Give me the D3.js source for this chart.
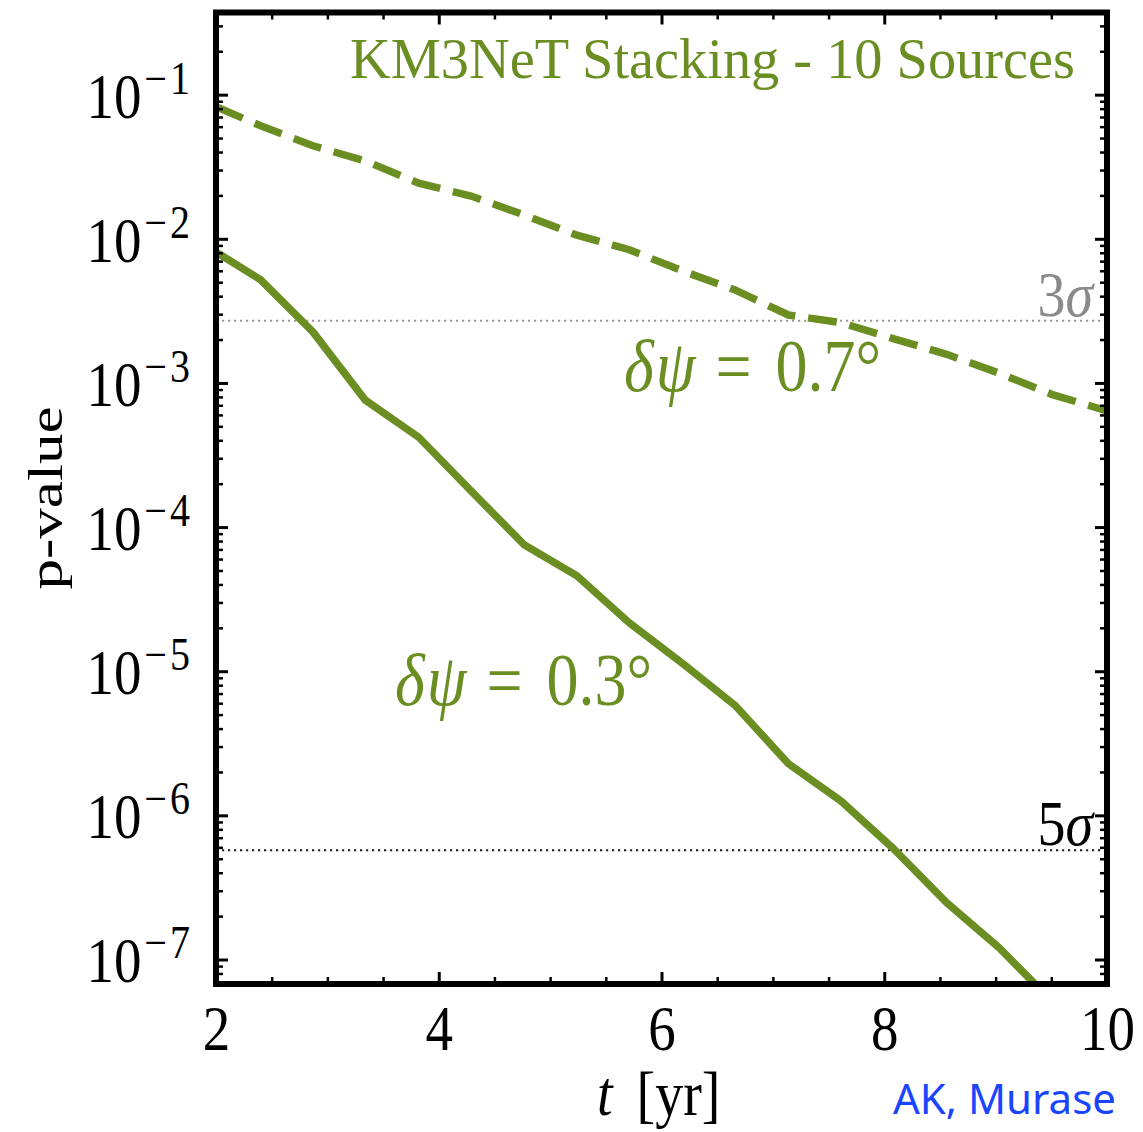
<!DOCTYPE html>
<html>
<head>
<meta charset="utf-8">
<script src="https://cdn.jsdelivr.net/npm/d3@7"></script>
<style>
  body { margin: 0; background: #fff; }
  svg { display: block; }
</style>
</head>
<body>
<svg id="chart" width="1143" height="1132"></svg>
<script>
// Observation time in years
const years = [2, 2.40, 2.87, 3.34, 3.82, 4.29, 4.77, 5.24, 5.71, 6.19, 6.66, 7.14, 7.61, 8.08, 8.56, 9.03, 9.51, 10];
// Stacked p-value, angular resolution 0.3 deg
const pNarrow = [8.1e-3, 5.2e-3, 2.26e-3, 7.6e-4, 4.2e-4, 1.78e-4, 7.5e-5, 4.6e-5, 2.17e-5, 1.13e-5, 5.8e-6, 2.28e-6, 1.26e-6, 5.9e-7, 2.48e-7, 1.21e-7, 5.1e-8, 2.2e-8];
// Stacked p-value, angular resolution 0.7 deg
const pWide = [8.24e-2, 6.08e-2, 4.42e-2, 3.47e-2, 2.43e-2, 1.98e-2, 1.46e-2, 1.06e-2, 8.4e-3, 5.98e-3, 4.42e-3, 2.96e-3, 2.62e-3, 2.03e-3, 1.58e-3, 1.17e-3, 8.3e-4, 6.4e-4];
// Significance thresholds
const sigmaNames = ["3", "5"];
const sigmaP = [2.7e-3, 5.73e-7];
// Axis ticks
const xTicks = [2, 4, 6, 8, 10];
const xMinorTicks = [2.5, 3, 3.5, 4.5, 5, 5.5, 6.5, 7, 7.5, 8.5, 9, 9.5];
const yTickExponents = [-1, -2, -3, -4, -5, -6, -7];
const seriesLabels = ["0.3°", "0.7°"];
const titleText = "KM3NeT Stacking - 10 Sources";

const GREEN = "#6b8e23";
const L = 216, R = 1107, T = 12.5, B = 984;
const STRETCH = 1.15;

const svg = d3.select("#chart");

const x = d3.scaleLinear().domain([2, 10]).range([L, R]);
const y = d3.scaleLog().domain([Math.pow(10, -7.17), Math.pow(10, -0.43)]).range([B, T]);

const yMajor = yTickExponents.map(e => Math.pow(10, e));
const yMinor = [];
for (let e = -8; e <= -1; e++) {
  for (let k = 2; k <= 9; k++) {
    const v = k * Math.pow(10, e);
    if (v >= y.domain()[0] && v <= y.domain()[1]) yMinor.push(v);
  }
}

// clip region for the data
svg.append("defs").append("clipPath").attr("id", "plotClip")
  .append("rect").attr("x", L).attr("y", T).attr("width", R - L).attr("height", B - T);

const plot = svg.append("g").attr("clip-path", "url(#plotClip)");

// significance reference lines
sigmaP.forEach((p, i) => {
  plot.append("line")
    .attr("x1", L).attr("x2", R)
    .attr("y1", y(p)).attr("y2", y(p))
    .attr("stroke", i === 0 ? "#9a9a9a" : "#1a1a1a")
    .attr("stroke-width", 2)
    .attr("stroke-dasharray", "2.2,3.8");
});

const line = d3.line().x(d => x(d[0])).y(d => y(d[1]));

plot.append("path")
  .datum(d3.zip(years, pWide))
  .attr("d", line)
  .attr("fill", "none")
  .attr("stroke", GREEN)
  .attr("stroke-width", 7.5)
  .attr("stroke-dasharray", "29,13");

plot.append("path")
  .datum(d3.zip(years, pNarrow))
  .attr("d", line)
  .attr("fill", "none")
  .attr("stroke", GREEN)
  .attr("stroke-width", 7.5)
  .attr("stroke-linejoin", "round");

// inward-pointing ticks on all four sides
function ticks(axis, transform, values, size, width) {
  const g = svg.append("g").attr("transform", transform)
    .call(axis.tickValues(values).tickSizeInner(-size).tickSizeOuter(0).tickFormat(""));
  g.select(".domain").remove();
  g.selectAll(".tick line").attr("stroke", "#000").attr("stroke-width", width);
  return g;
}

const xBottom = ticks(d3.axisBottom(x), `translate(0,${B})`, xTicks, 12, 3);
ticks(d3.axisBottom(x), `translate(0,${B})`, xMinorTicks, 7, 2.5);
ticks(d3.axisTop(x), `translate(0,${T})`, xTicks, 12, 3);
ticks(d3.axisTop(x), `translate(0,${T})`, xMinorTicks, 7, 2.5);
const yLeft = ticks(d3.axisLeft(y), `translate(${L},0)`, yMajor, 12, 3);
ticks(d3.axisLeft(y), `translate(${L},0)`, yMinor, 7, 2.5);
ticks(d3.axisRight(y), `translate(${R},0)`, yMajor, 12, 3);
ticks(d3.axisRight(y), `translate(${R},0)`, yMinor, 7, 2.5);

// frame
svg.append("rect")
  .attr("x", L).attr("y", T).attr("width", R - L).attr("height", B - T)
  .attr("fill", "none").attr("stroke", "#000").attr("stroke-width", 6);

const serif = "Liberation Serif";

// x tick labels
xBottom.selectAll(".tick").each(function (d) {
  d3.select(this).select("text").remove();
  d3.select(this).append("g")
    .attr("transform", `translate(0,66) scale(1,${STRETCH})`)
    .append("text")
    .attr("text-anchor", "middle")
    .attr("font-family", serif).attr("font-size", 55).attr("fill", "#000")
    .text(d);
});

// y tick labels as powers of ten
yLeft.selectAll(".tick").each(function (d) {
  d3.select(this).select("text").remove();
  const e = Math.round(Math.log10(d));
  const t = d3.select(this).append("g")
    .attr("transform", `translate(-23,22.5) scale(1,${STRETCH})`)
    .append("text")
    .attr("text-anchor", "end")
    .attr("font-family", serif).attr("fill", "#000");
  t.append("tspan").attr("font-size", 55).text("10");
  t.append("tspan").attr("font-size", 40).attr("dy", -21).attr("dx", 3)
    .attr("letter-spacing", 3).text("\u2212" + Math.abs(e));
});

// axis titles
const xl = svg.append("g").attr("transform", `translate(597,1115) scale(1,${STRETCH})`)
  .append("text").attr("font-family", serif).attr("font-size", 56).attr("fill", "#000");
xl.append("tspan").attr("font-style", "italic").text("t");
xl.append("tspan").attr("dx", 24).text("[yr]");

svg.append("text")
  .attr("transform", "translate(62,498) rotate(-90)")
  .attr("text-anchor", "middle")
  .attr("font-family", serif).attr("font-size", 48).attr("fill", "#000")
  .attr("textLength", 183).attr("lengthAdjust", "spacingAndGlyphs")
  .text("p-value");

// title
svg.append("text")
  .attr("x", 350).attr("y", 78)
  .attr("font-family", serif).attr("font-size", 56).attr("fill", GREEN)
  .attr("textLength", 725).attr("lengthAdjust", "spacingAndGlyphs")
  .text(titleText);

// sigma labels
sigmaP.forEach((p, i) => {
  const t = svg.append("g").attr("transform", `translate(1093,${y(p) - 5}) scale(1,${STRETCH})`)
    .append("text").attr("text-anchor", "end")
    .attr("font-family", serif).attr("font-size", 56)
    .attr("fill", i === 0 ? "#8a8a8a" : "#000");
  t.append("tspan").text(sigmaNames[i]);
  t.append("tspan").attr("font-style", "italic").text("\u03C3");
});

// curve labels
function psiLabel(px, py, value) {
  const t = svg.append("g").attr("transform", `translate(${px},${py}) scale(1,${STRETCH})`)
    .append("text").attr("font-family", serif).attr("font-size", 64).attr("fill", GREEN);
  t.append("tspan").attr("font-style", "italic").text("\u03B4");
  t.append("tspan").attr("font-style", "italic").attr("dx", 2).text("\u03C8");
  t.append("tspan").attr("dx", 20).text("=");
  t.append("tspan").attr("dx", 24).text(value);
}
psiLabel(395, 705, seriesLabels[0]);
psiLabel(624, 391, seriesLabels[1]);

// credit
svg.append("text")
  .attr("x", 893).attr("y", 1114)
  .attr("font-family", "Noto Sans")
  .attr("font-size", 42).attr("fill", "#1a45ff")
  .text("AK, Murase");
</script>
</body>
</html>
